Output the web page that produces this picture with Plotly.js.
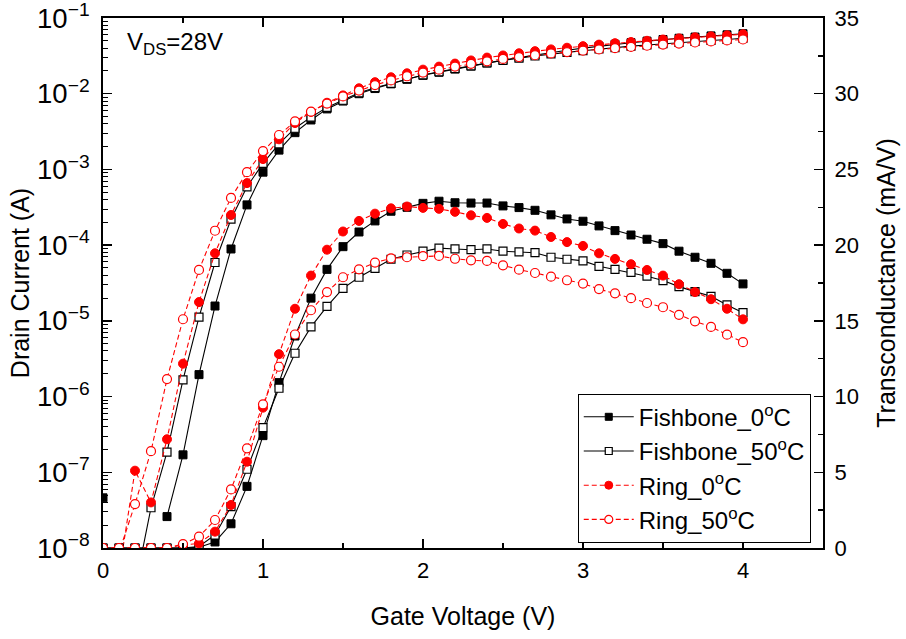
<!DOCTYPE html>
<html>
<head>
<meta charset="utf-8">
<script src="https://cdn.plot.ly/plotly-3.0.1.min.js"></script>
<style>html,body{margin:0;padding:0;background:#fff;}#chart{width:906px;height:639px;}</style>
</head>
<body>
<div id="chart"></div>
<script>
// Gate voltage (V)
const gateVoltage = [0.0,0.1,0.2,0.3,0.4,0.5,0.6,0.7,0.8,0.9,1.0,1.1,1.2,1.3,1.4,1.5,1.6,1.7,1.8,1.9,2.0,2.1,2.2,2.3,2.4,2.5,2.6,2.7,2.8,2.9,3.0,3.1,3.2,3.3,3.4,3.5,3.6,3.7,3.8,3.9,4.0];

// Drain current (A)
const idFishbone0 = [4.6e-8,null,null,null,2.6e-8,1.7e-7,1.95e-6,1.57e-5,8.9e-5,3.4e-4,9.2e-4,1.8e-3,3.06e-3,4.5e-3,6.3e-3,8.0e-3,1.0e-2,1.17e-2,1.35e-2,1.55e-2,1.75e-2,1.92e-2,2.12e-2,2.32e-2,2.55e-2,2.78e-2,3.0e-2,3.25e-2,3.5e-2,3.75e-2,4.0e-2,4.25e-2,4.5e-2,4.72e-2,4.95e-2,5.2e-2,5.4e-2,5.6e-2,5.8e-2,6.0e-2,6.2e-2];
const idFishbone50 = [null,null,3e-9,3.4e-8,1.85e-7,1.66e-6,1.12e-5,5.9e-5,2.2e-4,5.9e-4,1.2e-3,2.17e-3,3.5e-3,4.9e-3,6.6e-3,8.2e-3,1.03e-2,1.2e-2,1.37e-2,1.58e-2,1.77e-2,1.95e-2,2.15e-2,2.33e-2,2.55e-2,2.76e-2,2.95e-2,3.15e-2,3.35e-2,3.52e-2,3.7e-2,3.9e-2,4.05e-2,4.25e-2,4.4e-2,4.58e-2,4.75e-2,4.9e-2,5.05e-2,5.2e-2,5.4e-2];
const idRing0 = [3e-9,4.6e-9,1.05e-7,4.0e-8,2.73e-7,2.72e-6,1.77e-5,7.8e-5,2.5e-4,6.6e-4,1.37e-3,2.5e-3,4.1e-3,5.75e-3,7.6e-3,9.5e-3,1.18e-2,1.42e-2,1.65e-2,1.86e-2,2.08e-2,2.28e-2,2.5e-2,2.75e-2,3.0e-2,3.2e-2,3.42e-2,3.65e-2,3.85e-2,4.05e-2,4.25e-2,4.45e-2,4.65e-2,4.82e-2,5.0e-2,5.2e-2,5.38e-2,5.55e-2,5.72e-2,5.9e-2,6.1e-2];
const idRing50 = [2e-9,8.7e-9,3.8e-8,1.9e-7,1.7e-6,1.05e-5,4.7e-5,1.55e-4,4.2e-4,9.2e-4,1.75e-3,2.85e-3,4.3e-3,5.8e-3,7.4e-3,9.2e-3,1.1e-2,1.3e-2,1.5e-2,1.7e-2,1.9e-2,2.08e-2,2.28e-2,2.48e-2,2.68e-2,2.88e-2,3.05e-2,3.22e-2,3.4e-2,3.55e-2,3.7e-2,3.85e-2,4.0e-2,4.15e-2,4.3e-2,4.45e-2,4.6e-2,4.75e-2,4.9e-2,5.05e-2,5.2e-2];

// Transconductance (mA/V)
const gmFishbone0 = [0,0,0,0,0,0,0.05,0.4,1.6,4.07,7.42,10.92,14.0,16.5,18.4,19.9,20.87,21.6,22.24,22.5,22.76,22.9,22.8,22.78,22.78,22.59,22.48,22.3,22.0,21.73,21.58,21.27,20.96,20.67,20.39,20.1,19.6,19.2,18.8,18.14,17.44];
const gmFishbone50 = [0,0,0,0,0,0,0.1,0.86,2.73,5.2,7.95,10.55,12.86,14.6,15.96,17.15,17.88,18.47,19.07,19.35,19.6,19.8,19.75,19.7,19.75,19.6,19.55,19.5,19.2,19.07,18.96,18.6,18.4,18.2,17.95,17.66,17.26,16.93,16.62,16.05,15.54];
const gmRing0 = [0,0,0,0,0,0.2,0.3,1.08,2.84,5.7,9.27,12.8,15.8,17.99,19.7,20.9,21.6,22.08,22.43,22.55,22.46,22.4,22.2,21.97,21.8,21.4,21.1,20.96,20.54,20.2,19.95,19.46,19.09,18.74,18.36,17.99,17.42,16.9,16.43,15.8,15.1];
const gmRing50 = [0,0,0,0,0,0.26,0.75,1.85,3.87,6.58,9.49,11.97,14.1,15.7,16.9,17.88,18.4,18.85,19.13,19.2,19.27,19.29,19.1,19.0,18.96,18.67,18.38,18.16,17.92,17.68,17.46,17.1,16.82,16.5,16.18,15.9,15.4,14.97,14.6,14.09,13.59];

const seriesNames = ['Fishbone_0<sup>o</sup>C','Fishbone_50<sup>o</sup>C','Ring_0<sup>o</sup>C','Ring_50<sup>o</sup>C'];

const styles = [
  {line:{color:'#000',width:1.1}, marker:{symbol:'square',size:8,color:'#000',line:{color:'#000',width:1}}},
  {line:{color:'#000',width:1.1}, marker:{symbol:'square',size:8,color:'#fff',line:{color:'#000',width:1.2}}},
  {line:{color:'#ff0000',width:1.1,dash:'5px,3px'}, marker:{symbol:'circle',size:9,color:'#ff0000',line:{color:'#ff0000',width:1}}},
  {line:{color:'#ff0000',width:1.1,dash:'5px,3px'}, marker:{symbol:'circle',size:9,color:'#fff',line:{color:'#ff0000',width:1.2}}}
];
const idSets = [idFishbone0, idFishbone50, idRing0, idRing50];
const gmSets = [gmFishbone0, gmFishbone50, gmRing0, gmRing50];

const traces = [];
for (let i = 0; i < 4; i++) {
  traces.push({x: gateVoltage, y: gmSets[i], yaxis: 'y2', type: 'scatter', mode: 'lines+markers',
    name: seriesNames[i], legendgroup: 'g'+i, showlegend: false, line: styles[i].line, marker: styles[i].marker});
}
for (let i = 0; i < 4; i++) {
  traces.push({x: gateVoltage, y: idSets[i], yaxis: 'y', type: 'scatter', mode: 'lines+markers',
    name: seriesNames[i], legendgroup: 'g'+i, showlegend: false, line: styles[i].line, marker: styles[i].marker});
}
for (let i = 0; i < 4; i++) {
  traces.push({x: [null], y: [null], yaxis: 'y2', type: 'scatter', mode: 'lines+markers',
    name: seriesNames[i], legendgroup: 'g'+i, showlegend: true, line: styles[i].line,
    marker: Object.assign({}, styles[i].marker, {size: styles[i].marker.size - 1})});
}

const fontFam = 'Liberation Sans, Arial, sans-serif';
const layout = {
  width: 906, height: 639,
  margin: {l: 103, r: 83, t: 18, b: 91},
  paper_bgcolor: '#fff', plot_bgcolor: '#fff',
  font: {family: fontFam, size: 22, color: '#000'},
  showlegend: true,
  legend: {x: 0.983, y: 0.01, xanchor: 'right', yanchor: 'bottom', bordercolor: '#000', borderwidth: 1,
    bgcolor: '#fff', font: {family: fontFam, size: 24, color: '#000'}, tracegroupgap: 0, itemwidth: 50},
  xaxis: {
    range: [0, 4.5], dtick: 1, tick0: 0, ticks: 'inside', ticklen: 9, tickwidth: 1.5, tickcolor: '#000',
    showline: true, linewidth: 2, linecolor: '#000', mirror: 'ticks', zeroline: false, showgrid: false,
    minor: {dtick: 0.5, ticks: 'inside', ticklen: 5, tickwidth: 1.5, tickcolor: '#000', showgrid: false},
    ticklabelstandoff: 2,
    title: {text: 'Gate Voltage (V)', font: {family: fontFam, size: 25}, standoff: 25},
    tickfont: {family: fontFam, size: 22}
  },
  yaxis: {
    type: 'log', range: [-8, -1], dtick: 1, exponentformat: 'power', ticks: 'inside', ticklen: 9, tickwidth: 1.5,
    tickcolor: '#000', showline: true, linewidth: 2, linecolor: '#000', zeroline: false, showgrid: false,
    minor: {dtick: 'D1', ticks: 'inside', ticklen: 5, tickwidth: 1, tickcolor: '#000', showgrid: false},
    ticklabelstandoff: 7, ticklabeloverflow: 'allow',
    title: {text: 'Drain Current (A)', font: {family: fontFam, size: 25}, standoff: 0},
    tickfont: {family: fontFam, size: 22}
  },
  yaxis2: {
    overlaying: 'y', side: 'right', range: [0, 35], dtick: 5, ticks: 'inside', ticklen: 9, tickwidth: 1.5,
    tickcolor: '#000', showline: true, linewidth: 2, linecolor: '#000', zeroline: false, showgrid: false,
    minor: {dtick: 2.5, ticks: 'inside', ticklen: 5, tickwidth: 1.5, tickcolor: '#000', showgrid: false},
    ticklabelstandoff: 5, ticklabeloverflow: 'allow',
    title: {text: 'Transconductance (mA/V)', font: {family: fontFam, size: 25}, standoff: 20},
    tickfont: {family: fontFam, size: 22}
  },
  annotations: [{
    xref: 'paper', yref: 'paper', x: 0.03, y: 0.985, xanchor: 'left', yanchor: 'top', showarrow: false,
    text: 'V<sub>DS</sub>=28V', font: {family: fontFam, size: 24, color: '#000'}
  }]
};

Plotly.newPlot('chart', traces, layout, {displayModeBar: false, staticPlot: true});
</script>
</body>
</html>
